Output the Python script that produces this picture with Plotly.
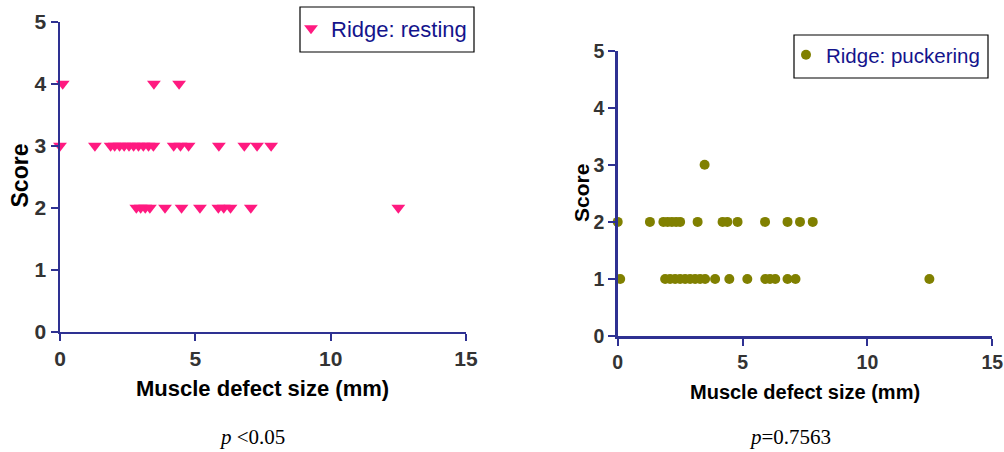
import plotly.graph_objects as go

# ---------------- data ----------------
resting_size = [0.1, 3.47, 4.40,
                0.0, 1.29, 1.87, 2.02, 2.20, 2.37, 2.55, 2.72, 2.90, 3.08, 3.27, 3.45,
                4.20, 4.45, 4.75, 5.87, 6.81, 7.28, 7.80,
                2.82, 2.98, 3.15, 3.32, 3.88, 4.49, 5.17, 5.85, 6.05, 6.30, 7.05, 12.5]
resting_score = [4, 4, 4,
                 3, 3, 3, 3, 3, 3, 3, 3, 3, 3, 3, 3,
                 3, 3, 3, 3, 3, 3, 3,
                 2, 2, 2, 2, 2, 2, 2, 2, 2, 2, 2, 2]

puckering_size = [3.48,
                  0.0, 1.29, 1.83, 2.00, 2.17, 2.34, 2.50, 3.20, 4.20, 4.39, 4.80, 5.90, 6.80, 7.30, 7.81,
                  0.1, 1.90, 2.10, 2.30, 2.50, 2.70, 2.90, 3.10, 3.30, 3.50, 3.90, 4.47, 5.19,
                  5.91, 6.10, 6.31, 6.80, 7.12, 12.48]
puckering_score = [3,
                   2, 2, 2, 2, 2, 2, 2, 2, 2, 2, 2, 2, 2, 2, 2,
                   1, 1, 1, 1, 1, 1, 1, 1, 1, 1, 1, 1, 1,
                   1, 1, 1, 1, 1, 1]

x_ticks = [0, 5, 10, 15]
y_ticks = [0, 1, 2, 3, 4, 5]
x_title = "Muscle defect size (mm)"
y_title = "Score"
left_label = "Ridge: resting"
right_label = "Ridge: puckering"

# ---------------- layout helpers ----------------
W, H = 1004, 452
def fx(p):
    return p / W
def fy(p):
    return 1 - p / H

AXIS = "#2e3192"
PINK = "#ff1a80"
OLIVE = "#808000"
NAVY = "#14148c"
SANS = "Liberation Sans, Arial, sans-serif"
SERIF = "Liberation Serif, Times New Roman, serif"

fig = go.Figure()
fig.add_trace(go.Scatter(
    x=resting_size, y=resting_score, mode="markers", name=left_label,
    marker=dict(symbol="triangle-down", size=12, color=PINK, line=dict(width=0)),
    cliponaxis=False, xaxis="x", yaxis="y", legend="legend"))
fig.add_trace(go.Scatter(
    x=puckering_size, y=puckering_score, mode="markers", name=right_label,
    marker=dict(symbol="circle", size=10, color=OLIVE, line=dict(width=0)),
    cliponaxis=False, xaxis="x2", yaxis="y2", legend="legend2"))

def axis(domain, anchor, vals, rng, fsize):
    return dict(domain=domain, anchor=anchor, range=rng, tickvals=vals,
                showgrid=False, zeroline=False, showline=True, linecolor=AXIS,
                linewidth=2.5, ticks="outside", ticklen=7, tickwidth=2, tickcolor=AXIS,
                tickfont=dict(family=SANS, size=fsize, color="#333333", weight="bold"),
                automargin=False, fixedrange=True)

fig.update_layout(
    template="none",
    width=W, height=H, margin=dict(l=0, r=0, t=0, b=0, autoexpand=False),
    paper_bgcolor="white", plot_bgcolor="white",
    xaxis=axis([fx(60), fx(466)], "y", x_ticks, [0, 15], 21),
    yaxis=axis([fy(331.7), fy(21.7)], "x", y_ticks, [0, 5], 21),
    xaxis2=axis([fx(617.7), fx(992.3)], "y2", x_ticks, [0, 15], 19.5),
    yaxis2=axis([fy(336), fy(50.7)], "x2", y_ticks, [0, 5], 19.5),
    legend=dict(x=fx(291), y=fy(7.5), xanchor="left", yanchor="top",
                borderwidth=0, bgcolor="rgba(0,0,0,0)",
                font=dict(family=SANS, size=22, color=NAVY)),
    legend2=dict(x=fx(786), y=fy(35), xanchor="left", yanchor="top",
                 borderwidth=0, bgcolor="rgba(0,0,0,0)",
                 font=dict(family=SANS, size=20.5, color=NAVY)),
    showlegend=True,
)

# legend frames
for (x0, y0, x1, y1) in [(300, 7, 474, 52), (794, 35, 988, 78)]:
    fig.add_shape(type="rect", xref="paper", yref="paper",
                  x0=fx(x0), x1=fx(x1), y0=fy(y1), y1=fy(y0),
                  line=dict(color="black", width=1.2), fillcolor="rgba(0,0,0,0)",
                  layer="above")

ann = [
    dict(text=x_title, x=fx(262), y=fy(388), size=22),
    dict(text=x_title, x=fx(805), y=fy(392), size=20),
    dict(text=y_title, x=fx(19.5), y=fy(176), size=23, angle=-90),
    dict(text=y_title, x=fx(581), y=fy(193), size=21, angle=-90),
]
for a in ann:
    fig.add_annotation(text=a["text"], x=a["x"], y=a["y"], xref="paper", yref="paper",
                       xanchor="center", yanchor="middle", showarrow=False,
                       textangle=a.get("angle", 0),
                       font=dict(family=SANS, size=a["size"], color="black", weight="bold"))

fig.add_annotation(text="<i>p</i> &lt;0.05", x=fx(252), y=fy(437), xref="paper", yref="paper",
                   xanchor="center", yanchor="middle", showarrow=False,
                   font=dict(family=SERIF, size=21, color="black"))
fig.add_annotation(text="<i>p</i>=0.7563", x=fx(790), y=fy(437), xref="paper", yref="paper",
                   xanchor="center", yanchor="middle", showarrow=False,
                   font=dict(family=SERIF, size=21, color="black"))

fig.write_html("out.html", config={"displayModeBar": False, "staticPlot": True},
               post_script="document.body.style.margin='0';document.body.style.padding='0';")
